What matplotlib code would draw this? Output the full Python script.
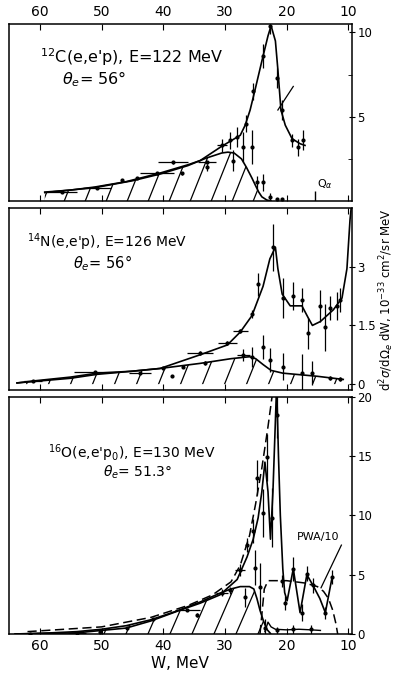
import numpy as np
import matplotlib
matplotlib.use("Agg")
import matplotlib.pyplot as plt

plt.rcParams['font.family'] = ['DejaVu Sans']

# ---- 12C(e,e'p) panel ----
c_fit_W = [59.2, 55, 51.1, 46, 40.5, 36, 34, 30.5, 27.5, 26.7, 25.9, 25.1, 24.0, 23.0, 22.5, 21.8, 21.4, 20.9, 20.2, 19.1, 17.8, 17.0]
c_fit_v = [0.53, 0.65, 0.83, 1.15, 1.66, 2.15, 2.4, 3.25, 3.9, 4.5, 5.4, 6.6, 8.3, 9.8, 10.4, 9.5, 7.8, 5.4, 4.5, 3.7, 3.4, 3.3]
c_bg_W = [59.2, 51, 45, 40.5, 36, 33, 30.5, 29.5, 28.5, 27.3, 26.5, 25.6, 25.0, 24.5, 24.0, 23.2, 22.5]
c_bg_v = [0.5, 0.8, 1.2, 1.6, 2.1, 2.55, 2.85, 2.9, 2.85, 2.5, 2.0, 1.36, 0.9, 0.53, 0.25, 0.06, 0.0]
c_pts_W = [56.4, 50.7, 46.7, 44.3, 41.0, 38.4, 36.9, 32.9, 32.9, 30.5, 29.2, 28.7, 28.0, 27.0, 26.6, 25.6, 25.4, 24.8, 23.8, 23.8, 22.7, 22.7, 21.5, 20.7, 21.5, 20.7, 19.1, 18.1, 17.3]
c_pts_v = [0.53, 0.77, 1.24, 1.36, 1.65, 2.3, 1.65, 2.3, 2.0, 3.3, 3.6, 2.4, 3.8, 3.2, 4.6, 3.2, 6.5, 1.1, 1.1, 8.6, 10.4, 0.25, 7.3, 5.4, 0.1, 0.1, 3.6, 3.2, 3.6]
c_pts_dv = [0, 0, 0, 0, 0.1, 0.1, 0.1, 0.1, 0.2, 0.4, 0.5, 0.6, 0.6, 0.9, 0.5, 1.0, 0.5, 0.4, 0.5, 0.7, 0.5, 0.2, 0.6, 0.6, 0.1, 0.1, 0.4, 0.5, 0.6]
c_pts_dW = [2.5, 2.3, 0, 0, 2.7, 2.4, 0, 1.5, 0, 0.8, 0, 0, 0, 0, 0, 0, 0, 0, 0, 0, 0, 0, 0, 0, 0, 0, 0, 0, 0]

# ---- 14N(e,e'p) panel ----
n_fit_W = [63.7, 61.1, 55, 50.7, 45, 40.5, 34, 29.6, 27.5, 25.6, 23.8, 22.7, 21.8, 21.4, 20.7, 19.4, 17.5, 16.5, 15.8, 14.5, 12.4, 11.0, 10.2, 9.7, 9.45]
n_fit_v = [0.03, 0.08, 0.18, 0.28, 0.33, 0.4, 0.75, 1.0, 1.33, 1.75, 2.5, 3.2, 3.5, 2.95, 2.3, 2.0, 2.0, 1.7, 1.5, 1.6, 1.9, 2.2, 2.95, 4.2, 4.6]
n_bg_W = [63.7, 55, 50.7, 45, 40.5, 34, 29, 26, 25, 23.8, 22.5, 20.6, 15, 10.8]
n_bg_v = [0.03, 0.15, 0.25, 0.33, 0.4, 0.53, 0.65, 0.7, 0.65, 0.5, 0.35, 0.28, 0.2, 0.12]
n_pts_W = [61.1, 51.1, 43.8, 40.0, 38.6, 36.8, 34.0, 33.2, 29.6, 27.5, 27.0, 25.6, 25.6, 24.6, 23.8, 22.7, 22.2, 20.6, 20.6, 18.9, 17.5, 17.5, 16.5, 15.8, 14.5, 13.7, 12.9, 11.8, 11.4, 12.9, 11.4]
n_pts_v = [0.08, 0.3, 0.28, 0.4, 0.2, 0.45, 0.8, 0.53, 1.05, 1.35, 0.75, 1.8, 0.7, 2.55, 0.95, 0.62, 3.5, 2.2, 0.45, 2.25, 2.15, 0.28, 1.3, 0.28, 2.0, 1.45, 1.95, 2.0, 2.15, 0.15, 0.12]
n_pts_dv = [0, 0, 0, 0, 0, 0, 0.05, 0.05, 0.05, 0.05, 0.15, 0.1, 0.25, 0.3, 0.3, 0.3, 0.6, 0.5, 0.35, 0.35, 0.3, 0.5, 0.4, 0.3, 0.4, 0.6, 0.3, 0.35, 0.3, 0.05, 0.05]
n_pts_dW = [1.5, 3.4, 1.8, 0, 0, 0, 2.1, 0, 1.5, 1.2, 1.0, 0, 0, 0, 0, 0, 0, 0, 0, 0, 0, 0, 0, 0, 0, 0, 0, 0, 0, 0, 0]

# ---- 16O(e,e'p0) panel ----
o_fit_W = [64, 58, 54, 46, 42, 37.3, 34, 30.8, 28, 26.4, 25.4, 24.6, 24.0, 23.5, 23.0, 22.6, 22.2, 21.8, 21.6, 21.3, 21.0, 20.6, 20.3, 19.9, 18.9, 17.8, 16.7, 15.7, 14.6, 13.7, 12.6]
o_fit_v = [0.0, 0.05, 0.1, 0.5, 1.1, 2.0, 2.6, 3.3, 4.6, 6.5, 8.0, 9.8, 12.0, 14.5, 12.0, 8.0, 12.0, 18.0, 21.0, 15.0, 10.0, 5.5, 3.5, 2.8, 5.5, 1.8, 5.0, 4.1, 3.0, 1.8, 4.8]
o_dash_W = [62, 50, 42, 36, 32, 29, 27.5, 26, 25, 24, 23, 22.3, 21.9]
o_dash_v = [0.2, 0.6, 1.4, 2.4, 3.3, 4.4, 5.8, 8.3, 11, 14, 17.5, 20.2, 21.5]
o_pwa_W = [24.3, 23.6, 23.0, 20, 17, 15, 14, 13.2, 12.5, 12.0, 11.7]
o_pwa_v = [0.0, 3.8, 4.5, 4.5, 4.3, 4.0, 3.6, 3.0, 2.0, 0.9, 0.0]
o_bg_W = [64, 58, 54, 50, 46, 42, 38, 34, 31, 29, 27.5, 26, 25.3, 24.8, 24.3, 23.8, 23.2, 22.6]
o_bg_v = [0.0, 0.1, 0.2, 0.4, 0.7, 1.2, 1.9, 2.7, 3.4, 3.8, 4.0, 4.0, 3.8, 3.0, 2.0, 1.2, 0.4, 0.05]
o_low_W = [23.5, 23.0, 22.5, 21.8, 20, 18, 16, 14.5]
o_low_v = [0.2, 1.0, 0.6, 0.4, 0.35, 0.4, 0.35, 0.3]
o_pts_W = [61.6, 54.0, 50.3, 45.9, 41.7, 36.1, 34.5, 30.5, 29.2, 27.5, 26.7, 26.4, 25.4, 25.1, 24.3, 24.8, 23.8, 23.2, 22.4, 21.6, 20.7, 20.2, 18.9, 17.5, 16.7, 15.7, 13.7, 12.6, 23.5, 21.5, 19.0, 16.0]
o_pts_v = [0.0, 0.1, 0.2, 0.5, 1.25, 2.0, 1.6, 3.5, 3.7, 5.4, 3.1, 7.5, 8.7, 5.6, 4.0, 13.2, 10.2, 14.9, 9.8, 18.5, 4.5, 2.6, 5.5, 1.8, 5.1, 4.1, 1.8, 4.8, 0.5, 0.3, 0.4, 0.4]
o_pts_dv = [0, 0, 0, 0, 0.1, 0.1, 0.2, 0.3, 0.3, 0.5, 0.8, 0.6, 1.0, 1.5, 2.0, 1.5, 2.0, 2.0, 2.5, 2.0, 0.5, 0.6, 1.0, 0.7, 0.6, 0.6, 0.5, 0.6, 0.8, 0.3, 0.4, 0.4]
o_pts_dW = [1.5, 1.5, 0, 0, 0, 2.0, 0, 1.0, 0, 0.8, 0, 0, 0, 0, 0, 0, 0, 0, 0, 0, 0, 0, 0, 0, 0, 0, 0, 0, 0, 0, 0, 0]

fig = plt.figure(figsize=(3.95, 6.78), dpi=100)
ax1 = fig.add_axes([0.0228, 0.7035, 0.868, 0.261])
ax2 = fig.add_axes([0.0228, 0.4248, 0.868, 0.2684])
ax3 = fig.add_axes([0.0228, 0.0649, 0.868, 0.3496])


def hatch(ax, W, v, spacing=21, slope=2.5):
    # steep "/" hatching clipped to the area under the curve
    poly = ax.fill_between(W, 0, v, facecolor='none', edgecolor='none')
    path = poly.get_paths()[0]
    pos = ax.get_position()
    wpx = pos.width * fig.get_figwidth() * fig.dpi
    hpx = pos.height * fig.get_figheight() * fig.dpi
    dx = hpx / slope / wpx
    for x0 in np.arange(-dx, 1, spacing / wpx):
        ln, = ax.plot([x0, x0 + dx], [0, 1], transform=ax.transAxes, color='k', lw=0.9)
        ln.set_clip_path(path, ax.transData)


def points(ax, W, v, dv, dW):
    ax.errorbar(W, v, yerr=dv, xerr=dW, fmt='o', ms=2.0, mfc='k', mec='k',
                ecolor='k', elinewidth=0.9, capsize=0, color='k')


for ax in (ax1, ax2, ax3):
    ax.set_xlim(65, 9.4)
    ax.set_xticks([60, 50, 40, 30, 20, 10])
    ax.yaxis.tick_right()
    ax.tick_params(axis='x', direction='in', top=True, bottom=True, length=4, labelsize=10)
    ax.tick_params(axis='y', direction='inout', left=False, right=True, length=5, labelsize=8.5, pad=1.5)
    for s in ax.spines.values():
        s.set_linewidth(1.1)

# panel 1
ax1.plot(c_fit_W, c_fit_v, color='k', lw=1.2)
ax1.plot(c_bg_W, c_bg_v, color='k', lw=1.2)
hatch(ax1, c_bg_W, c_bg_v)
points(ax1, c_pts_W, c_pts_v, c_pts_dv, c_pts_dW)
ax1.plot([21.4, 18.9], [5.4, 6.8], color='k', lw=0.9)
ax1.vlines(15.4, 0, 0.6, color='k', lw=1)
ax1.text(15.0, 0.8, r"Q$_\alpha$", fontsize=8)
ax1.set_ylim(0, 10.5)
ax1.set_yticks([5, 10])
ax1.set_yticks([2.5, 7.5], minor=True)
ax1.tick_params(axis='y', which='minor', direction='in', left=False, length=3)
ax1.tick_params(axis='x', labeltop=True, labelbottom=False)
ax1.text(0.09, 0.815, r"$^{12}$C(e,e'p), E=122 MeV", transform=ax1.transAxes, fontsize=11.5, va='center')
ax1.text(0.155, 0.69, r"$\theta_e$= 56°", transform=ax1.transAxes, fontsize=11.5, va='center')

# panel 2
ax2.plot(n_fit_W, n_fit_v, color='k', lw=1.2)
ax2.plot(n_bg_W, n_bg_v, color='k', lw=1.2)
hatch(ax2, n_bg_W, n_bg_v, spacing=22)
points(ax2, n_pts_W, n_pts_v, n_pts_dv, n_pts_dW)
ax2.set_ylim(-0.15, 4.5)
ax2.set_yticks([0, 1.5, 3])
ax2.set_yticklabels(["0", "1.5", "3"])
ax2.tick_params(axis='x', labeltop=False, labelbottom=False)
ax2.text(0.052, 0.813, r"$^{14}$N(e,e'p), E=126 MeV", transform=ax2.transAxes, fontsize=10, va='center')
ax2.text(0.187, 0.698, r"$\theta_e$= 56°", transform=ax2.transAxes, fontsize=10.5, va='center')

# panel 3
ax3.plot(o_fit_W, o_fit_v, color='k', lw=1.2)
ax3.plot(o_dash_W, o_dash_v, color='k', lw=1.1, ls=(0, (6, 3)))
ax3.plot(o_pwa_W, o_pwa_v, color='k', lw=1.1, ls=(0, (6, 3)))
ax3.plot(o_bg_W, o_bg_v, color='k', lw=1.2)
ax3.plot(o_low_W, o_low_v, color='k', lw=1.0)
hatch(ax3, o_bg_W, o_bg_v, spacing=22, slope=2.3)
points(ax3, o_pts_W, o_pts_v, o_pts_dv, o_pts_dW)
ax3.text(14.8, 8.15, "PWA/10", fontsize=8, ha='center', va='center')
ax3.plot([11.1, 14.4], [7.5, 3.9], color='k', lw=0.9)
ax3.set_ylim(0, 20)
ax3.set_yticks([0, 5, 10, 15, 20])
ax3.tick_params(axis='x', labeltop=False, labelbottom=True)
ax3.set_xlabel("W, MeV", fontsize=11, labelpad=2)
ax3.text(0.114, 0.764, r"$^{16}$O(e,e'p$_0$), E=130 MeV", transform=ax3.transAxes, fontsize=10, va='center')
ax3.text(0.274, 0.684, r"$\theta_e$= 51.3°", transform=ax3.transAxes, fontsize=10, va='center')

fig.text(0.979, 0.5575, r"d$^2\sigma$/d$\Omega_e$ dW, 10$^{-33}$ cm$^2$/sr MeV",
         rotation=90, ha='center', va='center', fontsize=8.5)

fig.savefig("out.png", dpi=100)
